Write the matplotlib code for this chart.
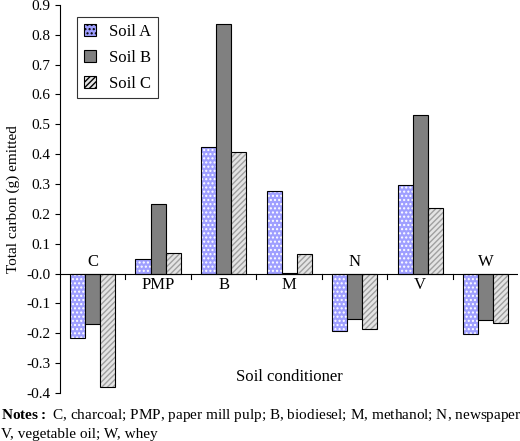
import numpy as np
import matplotlib.pyplot as plt

plt.rcParams['font.family'] = 'Liberation Serif'
plt.rcParams['mathtext.fontset'] = 'custom'
plt.rcParams['mathtext.rm'] = 'Liberation Serif'
plt.rcParams['mathtext.bf'] = 'Liberation Serif:bold'

# data
conditioners = ["C", "PMP", "B", "M", "N", "V", "W"]
soil_a = [-0.215, 0.048, 0.425, 0.275, -0.193, 0.297, -0.202]
soil_b = [-0.170, 0.232, 0.835, 0.003, -0.152, 0.532, -0.155]
soil_c = [-0.380, 0.070, 0.408, 0.065, -0.187, 0.220, -0.167]
series = [("Soil A", soil_a, "#9f9fff", "#ffffff", "...."),
          ("Soil B", soil_b, "#808080", "#808080", ""),
          ("Soil C", soil_c, "#e4e4e4", "#a0a0a0", "//////")]

fig = plt.figure(figsize=(5.2, 4.41), dpi=100)
ax = fig.add_axes([0.115, 0.109, 0.882, 0.88])

x = np.arange(len(conditioners))
w = 0.23
handles = []
for i, (name, vals, fc, hc, hatch) in enumerate(series):
    pos = x + (i - 1) * w
    ax.bar(pos, vals, w, color=fc, edgecolor=hc, hatch=hatch, linewidth=0)
    ax.bar(pos, vals, w, facecolor="none", edgecolor="black", linewidth=0.8)

ax.set_xlim(-0.5, len(conditioners) - 0.5)
ax.set_ylim(-0.4, 0.9)
ticks = np.arange(-0.4, 0.91, 0.1)
ax.set_yticks(ticks)
ax.set_yticklabels([f"{v:.1f}" for v in ticks], fontsize=11)
ax.set_ylabel("Total carbon (g) emitted", fontsize=11)
for s in ["top", "right", "bottom"]:
    ax.spines[s].set_visible(False)
ax.set_xticks([])
ax.axhline(0, color="black", linewidth=0.8)
for b in np.arange(0.5, len(conditioners) - 0.5):
    ax.plot([b, b], [0, -0.018], color="black", linewidth=0.8)

mean = np.array([soil_a, soil_b, soil_c]).mean(axis=0)
for xi, lab, m in zip(x, conditioners, mean):
    yy = 0.04 if m < 0 else -0.04
    ax.text(xi, yy, lab, ha="center", va="center", fontsize=12)

ax.text(3.0, -0.345, "Soil conditioner", ha="center", va="center", fontsize=12)

leg = ax.legend([plt.Rectangle((0, 0), 1, 1, facecolor=s[2], edgecolor="black", hatch=s[4], linewidth=0.8)
                 for s in series],
                [s[0] for s in series], loc="upper left", bbox_to_anchor=(0.02, 0.99),
                fancybox=False, edgecolor="black", fontsize=12, handlelength=0.7, handleheight=0.7,
                borderpad=0.4, labelspacing=0.6)
leg.get_frame().set_linewidth(0.8)

fig.text(0.002, 0.058, r"$\bf{Notes:}$ C, charcoal; PMP, paper mill pulp; B, biodiesel; M, methanol; N, newspaper;",
         fontsize=11, va="center")
fig.text(0.002, 0.015, "V, vegetable oil; W, whey", fontsize=11, va="center")

fig.savefig("out.png", dpi=100)
